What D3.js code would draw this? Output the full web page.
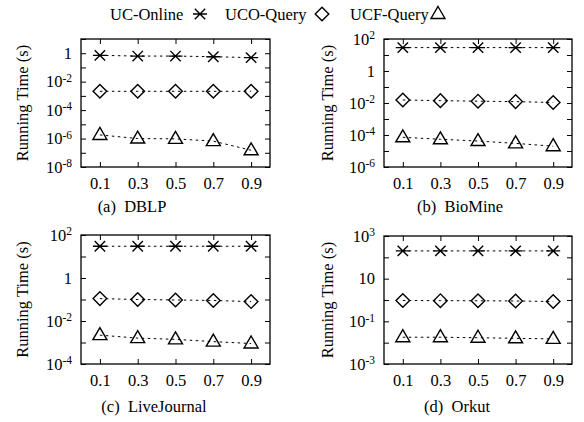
<!DOCTYPE html>
<html>
<head>
<meta charset="utf-8">
<script src="https://cdn.jsdelivr.net/npm/d3@7"></script>
<style>
  body { margin: 0; background: #fff; }
  svg text { font-family: "Liberation Serif", Tinos, "Times New Roman", Times, "DejaVu Serif", serif; }
</style>
</head>
<body>
<svg id="chart" width="584" height="422"></svg>
<script>
// Datos
var thresholds = [0.1, 0.3, 0.5, 0.7, 0.9];
var seriesNames = ["UC-Online", "UCO-Query", "UCF-Query"];

var dblpOnline = [0.71, 0.63, 0.63, 0.57, 0.49];
var dblpUCO    = [0.0021, 0.0021, 0.0021, 0.0021, 0.0021];
var dblpUCF    = [1.8e-6, 1.0e-6, 0.95e-6, 6.6e-7, 1.5e-7];

var bioOnline = [29, 29, 29, 29, 29];
var bioUCO    = [0.0155, 0.014, 0.013, 0.0122, 0.0107];
var bioUCF    = [7.2e-5, 5.4e-5, 4.2e-5, 3.0e-5, 2.0e-5];

var ljOnline = [30, 30, 30, 30, 30];
var ljUCO    = [0.11, 0.1, 0.095, 0.09, 0.08];
var ljUCF    = [0.0022, 0.0016, 0.0014, 0.0011, 0.0009];

var orkOnline = [200, 200, 200, 200, 200];
var orkUCO    = [0.95, 0.93, 0.92, 0.9, 0.85];
var orkUCF    = [0.018, 0.018, 0.017, 0.016, 0.015];

// exponentes: rango del eje y etiquetas
var dblpExp = [-8, 1], dblpLabels = [-8, -6, -4, -2, 0];
var bioExp  = [-6, 2], bioLabels  = [-6, -4, -2, 0, 2];
var ljExp   = [-4, 2], ljLabels   = [-4, -2, 0, 2];
var orkExp  = [-3, 3], orkLabels  = [-3, -1, 1, 3];

var panels = [
  {caption: "(a)  DBLP", data: [dblpOnline, dblpUCO, dblpUCF], exp: dblpExp, labels: dblpLabels,
   x0: 81, x1: 270, y0: 39, y1: 167, capX: 132, capY: 212, titleX: 22},
  {caption: "(b)  BioMine", data: [bioOnline, bioUCO, bioUCF], exp: bioExp, labels: bioLabels,
   x0: 384, x1: 572, y0: 39, y1: 167, capX: 460, capY: 212, titleX: 327},
  {caption: "(c)  LiveJournal", data: [ljOnline, ljUCO, ljUCF], exp: ljExp, labels: ljLabels,
   x0: 81, x1: 270, y0: 235, y1: 364, capX: 154, capY: 412, titleX: 22},
  {caption: "(d)  Orkut", data: [orkOnline, orkUCO, orkUCF], exp: orkExp, labels: orkLabels,
   x0: 384, x1: 572, y0: 236, y1: 364, capX: 457, capY: 412, titleX: 327}
];

var svg = d3.select("#chart");
var fontSize = 16.5;
var serif = "'Liberation Serif', Tinos, 'Times New Roman', Times, 'DejaVu Serif', serif";

// Marcadores estilo gnuplot
function drawMarker(g, type, x, y) {
  if (type === 0) {
    var r = 7, d = 5.2;
    g.append("path")
      .attr("d", "M" + (x - r) + "," + y + "H" + (x + r) +
                 "M" + (x - d) + "," + (y - d) + "L" + (x + d) + "," + (y + d) +
                 "M" + (x - d) + "," + (y + d) + "L" + (x + d) + "," + (y - d))
      .attr("stroke", "black").attr("stroke-width", 1.4).attr("fill", "none");
  } else if (type === 1) {
    var s = 6.8;
    g.append("path")
      .attr("d", "M" + x + "," + (y - s) + "L" + (x + s) + "," + y + "L" + x + "," + (y + s) + "L" + (x - s) + "," + y + "Z")
      .attr("stroke", "black").attr("stroke-width", 1.4).attr("fill", "none");
  } else {
    var w = 7;
    g.append("path")
      .attr("d", "M" + x + "," + (y - 7.5) + "L" + (x + w) + "," + (y + 4.5) + "L" + (x - w) + "," + (y + 4.5) + "Z")
      .attr("stroke", "black").attr("stroke-width", 1.4).attr("fill", "none");
  }
}

function expLabel(sel, e) {
  sel.text("");
  if (e === 0) { sel.append("tspan").text("1"); return; }
  if (e === 1) { sel.append("tspan").text("10"); return; }
  sel.append("tspan").text("10");
  sel.append("tspan").attr("dy", "-0.48em").style("font-size", "11.5px").text(e);
}

panels.forEach(function(p) {
  var g = svg.append("g");
  var x = d3.scaleLinear().domain([0, 1]).range([p.x0, p.x1]);
  var y = d3.scaleLog().domain([Math.pow(10, p.exp[0]), Math.pow(10, p.exp[1])]).range([p.y1, p.y0]);
  var decades = d3.range(p.exp[0], p.exp[1] + 1).map(function(e) { return Math.pow(10, e); });

  // Ejes con marcas hacia dentro
  var left = g.append("g").attr("transform", "translate(" + p.x0 + ",0)")
    .call(d3.axisLeft(y).tickValues(decades).tickSizeInner(-5).tickSizeOuter(0).tickPadding(9)
      .tickFormat(function() { return ""; }));
  left.selectAll(".tick text").each(function(d) {
    var e = Math.round(Math.log10(d));
    if (p.labels.indexOf(e) >= 0) expLabel(d3.select(this), e);
  });
  g.append("g").attr("transform", "translate(" + p.x1 + ",0)")
    .call(d3.axisRight(y).tickValues(decades).tickSizeInner(-5).tickSizeOuter(0).tickFormat(""));
  g.append("g").attr("transform", "translate(0," + p.y1 + ")")
    .call(d3.axisBottom(x).tickValues(thresholds).tickSizeInner(-5).tickSizeOuter(0).tickPadding(10)
      .tickFormat(d3.format(".1f")));
  g.append("g").attr("transform", "translate(0," + p.y0 + ")")
    .call(d3.axisTop(x).tickValues(thresholds).tickSizeInner(-5).tickSizeOuter(0).tickFormat(""));

  g.selectAll(".domain").remove();
  g.selectAll("g").attr("font-family", serif);
  g.selectAll(".tick line").attr("stroke", "black").attr("stroke-width", 1);
  g.selectAll(".tick text").attr("fill", "black")
    .style("font-family", serif).style("font-size", fontSize + "px");

  g.append("rect")
    .attr("x", p.x0).attr("y", p.y0)
    .attr("width", p.x1 - p.x0).attr("height", p.y1 - p.y0)
    .attr("fill", "none").attr("stroke", "black").attr("stroke-width", 1.3);

  // Series
  var line = d3.line().x(function(d, i) { return x(thresholds[i]); }).y(function(d) { return y(d); });
  p.data.forEach(function(vals, k) {
    g.append("path").datum(vals)
      .attr("d", line)
      .attr("fill", "none").attr("stroke", "black").attr("stroke-width", 1)
      .attr("stroke-dasharray", "2.5,3.5");
    vals.forEach(function(v, i) { drawMarker(g, k, x(thresholds[i]), y(v)); });
  });

  // Titulo del eje y pie
  g.append("text")
    .attr("transform", "translate(" + p.titleX + "," + ((p.y0 + p.y1) / 2) + ") rotate(-90)")
    .attr("text-anchor", "middle").attr("dominant-baseline", "central")
    .style("font-family", serif).style("font-size", fontSize + "px")
    .text("Running Time (s)");
  g.append("text")
    .attr("x", p.capX).attr("y", p.capY)
    .attr("text-anchor", "middle")
    .style("font-family", serif).style("font-size", fontSize + "px").style("white-space", "pre")
    .text(p.caption);
});

// Leyenda
var legendText = [110, 225, 350];
var legendMark = [200, 322, 438];
seriesNames.forEach(function(name, k) {
  svg.append("text")
    .attr("x", legendText[k]).attr("y", 20)
    .style("font-family", serif).style("font-size", fontSize + "px")
    .text(name);
  drawMarker(svg, k, legendMark[k], 14);
});
</script>
</body>
</html>
